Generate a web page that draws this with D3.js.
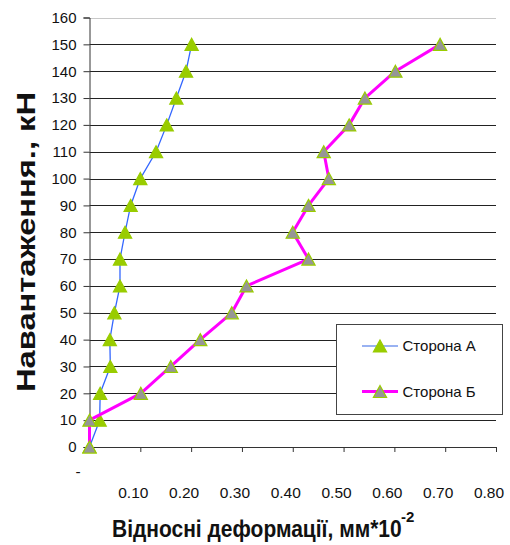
<!DOCTYPE html>
<html>
<head>
<meta charset="utf-8">
<script src="https://cdn.jsdelivr.net/npm/d3@7/dist/d3.min.js"></script>
<style>
  html, body { margin: 0; padding: 0; background: #fff; }
  svg { display: block; font-family: Arial, "Liberation Sans", sans-serif; }
</style>
</head>
<body>
<svg id="chart" width="510" height="545"></svg>
<script>
// Load steps (kN) and relative strains for both sides of the specimen
const loads = [0, 10, 20, 30, 40, 50, 60, 70, 80, 90, 100, 110, 120, 130, 140, 150];
const sideA = [0.000, 0.020, 0.021, 0.041, 0.040, 0.049, 0.060, 0.060, 0.070, 0.081, 0.100, 0.131, 0.152, 0.171, 0.190, 0.201];
const sideB = [0.000, 0.000, 0.101, 0.160, 0.218, 0.280, 0.309, 0.431, 0.400, 0.431, 0.471, 0.461, 0.511, 0.542, 0.602, 0.690];
const yTicks = [0, 10, 20, 30, 40, 50, 60, 70, 80, 90, 100, 110, 120, 130, 140, 150, 160];
const xTicks = [0, 0.1, 0.2, 0.3, 0.4, 0.5, 0.6, 0.7, 0.8];
const seriesNames = ["Сторона А", "Сторона Б"];

const svg = d3.select("#chart");

const x = d3.scaleLinear().domain([0, 0.8]).range([89.5, 496]);
const y = d3.scaleLinear().domain([0, 160]).range([447, 17.5]);

// Horizontal gridlines
svg.append("g").selectAll("line")
  .data(yTicks.filter(d => d > 0))
  .join("line")
  .attr("x1", x(0)).attr("x2", x(0.8))
  .attr("y1", d => Math.round(y(d)) + 0.5).attr("y2", d => Math.round(y(d)) + 0.5)
  .attr("stroke", d => d === 160 ? "#c8c8c8" : "#222")
  .attr("stroke-width", 1);

// Y axis
const yAxis = svg.append("g")
  .attr("transform", `translate(${x(0)},0)`)
  .call(d3.axisLeft(y).tickValues(yTicks).tickSize(6).tickPadding(7).tickFormat(d3.format("d")));
yAxis.select(".domain").attr("stroke", "#333");
yAxis.selectAll(".tick line").attr("stroke", "#333");
yAxis.selectAll(".tick text")
  .attr("font-size", 15).attr("fill", "#111").attr("font-family", "Arial, 'Liberation Sans', sans-serif");

// X axis (zero is shown as a dash; labels carry right-hand padding)
const xAxis = svg.append("g")
  .attr("transform", `translate(0,${y(0)})`)
  .call(d3.axisBottom(x).tickValues(xTicks).tickSize(5).tickSizeOuter(0)
    .tickFormat(d => d === 0 ? "-" : d.toFixed(2)));
xAxis.select(".domain").attr("stroke", "#333");
xAxis.selectAll(".tick line").attr("stroke", "#333");
xAxis.selectAll(".tick text")
  .attr("font-size", 15.5).attr("fill", "#111").attr("font-family", "Arial, 'Liberation Sans', sans-serif")
  .attr("dy", null)
  .attr("y", d => d === 0 ? 30 : 51)
  .attr("x", d => d === 0 ? -12 : -7.5);

// Triangle marker, centred on its bounding box
const triangle = {
  draw(ctx, size) {
    const h = Math.sqrt(size);
    ctx.moveTo(0, -h / 2);
    ctx.lineTo(h * 0.55, h / 2);
    ctx.lineTo(-h * 0.55, h / 2);
    ctx.closePath();
  }
};
const marker = d3.symbol().type(triangle).size(144);

const line = d3.line().x(d => x(d[0])).y(d => y(d[1]));

const series = [
  { name: seriesNames[0], values: sideA, stroke: "#3366ff", width: 1.3, fill: "#99cc00", edge: "#99cc00" },
  { name: seriesNames[1], values: sideB, stroke: "#ff00ff", width: 3, fill: "#969696", edge: "#99cc00" }
];

series.forEach(s => {
  const pts = loads.map((l, i) => [s.values[i], l]);
  svg.append("path")
    .datum(pts)
    .attr("fill", "none")
    .attr("stroke", s.stroke)
    .attr("stroke-width", s.width)
    .attr("stroke-linejoin", "round")
    .attr("d", line);
  svg.append("g").selectAll("path")
    .data(pts)
    .join("path")
    .attr("transform", d => `translate(${x(d[0])},${y(d[1])})`)
    .attr("d", marker)
    .attr("fill", s.fill)
    .attr("stroke", s.edge)
    .attr("stroke-width", 1.2);
});

// Legend
const lg = svg.append("g");
lg.append("rect")
  .attr("x", 336.5).attr("y", 324.5).attr("width", 166).attr("height", 90)
  .attr("fill", "#fff").attr("stroke", "#444").attr("stroke-width", 1);
const legendMarker = d3.symbol().type(triangle).size(144);
series.forEach((s, i) => {
  const cy = 346 + i * 45.5;
  lg.append("line")
    .attr("x1", 362).attr("x2", 398).attr("y1", cy).attr("y2", cy)
    .attr("stroke", i === 0 ? "#7799ee" : s.stroke).attr("stroke-width", s.width);
  lg.append("path")
    .attr("transform", `translate(380,${cy})`)
    .attr("d", legendMarker)
    .attr("fill", s.fill).attr("stroke", s.edge).attr("stroke-width", 1.2);
  lg.append("text")
    .attr("x", 402.5).attr("y", cy).attr("dy", "0.36em")
    .attr("font-size", 15).attr("fill", "#111")
    .text(s.name);
});

// Axis titles
svg.append("text")
  .attr("transform", "translate(35,242) rotate(-90)")
  .attr("text-anchor", "middle")
  .attr("font-size", 26).attr("font-weight", "bold").attr("fill", "#111")
  .attr("textLength", 300).attr("lengthAdjust", "spacingAndGlyphs")
  .text("Навантаження., кН");

svg.append("text")
  .attr("transform", "translate(112,537) scale(1,1.15)")
  .attr("font-size", 21).attr("font-weight", "bold").attr("fill", "#111")
  .text("Відносні деформації, мм*10");
svg.append("text")
  .attr("x", 401).attr("y", 522)
  .attr("font-size", 15).attr("font-weight", "bold").attr("fill", "#111")
  .text("-2");
</script>
</body>
</html>
